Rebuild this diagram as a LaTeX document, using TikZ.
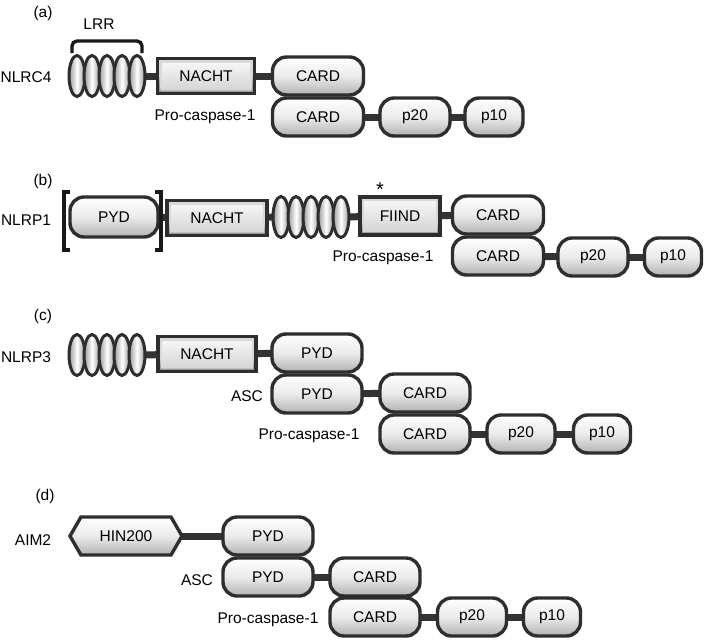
\documentclass[tikz,border=0pt]{standalone}
\usepackage{fontspec}
\setmainfont{Liberation Sans}
\usetikzlibrary{shapes.geometric,shapes.symbols,backgrounds}
\tikzset{
  dom/.style={rounded corners=14pt, draw=black!82, line width=3.4pt,
    top color=white, bottom color=black!30, middle color=black!8,
    minimum height=38pt, inner sep=0pt},
  rdom/.style={draw=black!82, line width=3.4pt, minimum height=35pt, inner sep=0pt,
    path picture={
      \fill[black!40] (path picture bounding box.south west) rectangle (path picture bounding box.north east);
      \fill[black!15] ([shift={(3pt,3pt)}]path picture bounding box.south west) -- ([shift={(-3pt,3pt)}]path picture bounding box.south east) -- (path picture bounding box.north east) -- (path picture bounding box.north west) -- cycle;
      \shade[top color=black!4, bottom color=black!16] ([shift={(4.5pt,4.5pt)}]path picture bounding box.south west) rectangle ([shift={(-4.5pt,-4.5pt)}]path picture bounding box.north east);
    }},
  hexdom/.style={signal, signal to=east and west, signal pointer angle=120,
    draw=black!82, line width=3.4pt, top color=white, bottom color=black!30, middle color=black!8,
    minimum height=38pt, minimum width=112pt, inner sep=0pt},
  coil/.style={ellipse, draw=black!82, line width=3pt, minimum width=16pt, minimum height=41pt,
    inner sep=0pt, left color=black!40, right color=black!40, middle color=white},
  link/.style={line width=7pt, draw=black!80},
  brk/.style={line width=3.4pt, draw=black!90},
  lbl/.style={inner sep=0pt},
}
\begin{document}
\begin{tikzpicture}[x=1pt,y=-1pt,font=\fontsize{15.5}{18}\selectfont]
\useasboundingbox (0,0) rectangle (709,640);

% ---------- (a) ----------
\node[lbl] (la) at (43,13) {(a)};
\node[lbl] (lrr) at (99,24) {LRR};
\node[lbl] (nlrc4) at (26,77) {NLRC4};
\foreach \i/\x in {1/77,2/92,3/107,4/122,5/137}{\node[coil] (ac\i) at (\x,76) {};}
\coordinate (abl) at (72,53); \coordinate (abr) at (142,53);
\draw[brk, rounded corners=5pt] (abl) -- (72,41) -- (142,41) -- (abr);
\node[rdom, minimum width=97pt] (anacht) at (206,76) {NACHT};
\node[dom, minimum width=91pt] (acard) at (318,76) {CARD};
\node[lbl] (apc) at (205,117) {Pro-caspase-1};
\node[dom, minimum width=91pt] (apcard) at (318,117) {CARD};
\node[dom, minimum width=70pt] (ap20) at (415,117) {p20};
\node[dom, minimum width=58pt] (ap10) at (494,117) {p10};

% ---------- (b) ----------
\node[lbl] (lb) at (43,181) {(b)};
\node[lbl] (nlrp1) at (26,220) {NLRP1};
\node[dom, minimum width=88pt, minimum height=40pt] (bpyd) at (114,217) {PYD};
\coordinate (bl1) at (70,192); \coordinate (bl2) at (70,250);
\draw[brk] (bl1) -- (64,192) -- (64,250) -- (bl2);
\coordinate (br1) at (155,192); \coordinate (br2) at (155,250);
\draw[brk] (br1) -- (161,192) -- (161,250) -- (br2);
\node[rdom, minimum width=100pt] (bnacht) at (217,218) {NACHT};
\foreach \i/\x in {1/281,2/296,3/311,4/326,5/341}{\node[coil] (bc\i) at (\x,217) {};}
\node[rdom, minimum width=80pt, minimum height=38pt] (bfiind) at (400,216) {FIIND};
\node[lbl, font=\fontsize{20}{20}\selectfont] (bstar) at (380,190) {*};
\node[dom, minimum width=91pt] (bcard) at (498,215) {CARD};
\node[lbl] (bpc) at (383,258) {Pro-caspase-1};
\node[dom, minimum width=91pt] (bpcard) at (498,256) {CARD};
\node[dom, minimum width=70pt] (bp20) at (593,257) {p20};
\node[dom, minimum width=57pt] (bp10) at (673,257) {p10};

% ---------- (c) ----------
\node[lbl] (lc) at (43,316) {(c)};
\node[lbl] (nlrp3) at (26,357) {NLRP3};
\foreach \i/\x in {1/77,2/92,3/107,4/122,5/137}{\node[coil] (cc\i) at (\x,355) {};}
\node[rdom, minimum width=98pt] (cnacht) at (207,354) {NACHT};
\node[dom, minimum width=90pt] (cpyd) at (317,353) {PYD};
\node[lbl] (casc) at (247,396) {ASC};
\node[dom, minimum width=90pt] (capyd) at (317,394) {PYD};
\node[dom, minimum width=90pt] (cacard) at (425,393) {CARD};
\node[lbl] (cpc) at (309,436) {Pro-caspase-1};
\node[dom, minimum width=90pt] (cpcard) at (425,434) {CARD};
\node[dom, minimum width=68pt] (cp20) at (521,434) {p20};
\node[dom, minimum width=57pt] (cp10) at (602,434) {p10};

% ---------- (d) ----------
\node[lbl] (ld) at (45,496) {(d)};
\node[lbl] (aim2) at (33,540) {AIM2};
\node[hexdom] (dhin) at (126,536) {HIN200};
\node[dom, minimum width=90pt] (dpyd) at (268,536) {PYD};
\node[lbl] (dasc) at (197,580) {ASC};
\node[dom, minimum width=90pt] (dapyd) at (268,577) {PYD};
\node[dom, minimum width=90pt] (dacard) at (375,577) {CARD};
\node[lbl] (dpc) at (268,620) {Pro-caspase-1};
\node[dom, minimum width=90pt] (dpcard) at (375,617) {CARD};
\node[dom, minimum width=69pt] (dp20) at (472,617) {p20};
\node[dom, minimum width=57pt] (dp10) at (552,617) {p10};

\begin{pgfonlayer}{background}
  \draw[link] (ac5.center) -- (anacht.center);
  \draw[link] (anacht.center) -- (acard.center);
  \draw[link] (apcard.center) -- (ap20.center);
  \draw[link] (ap20.center) -- (ap10.center);

  \draw[link] (bpyd.center) -- (bnacht.center);
  \draw[link] (bnacht.center) -- (bc1.center);
  \draw[link] (bc5.center) -- (bfiind.center);
  \draw[link] (bfiind.center) -- (bcard.center);
  \draw[link] (bpcard.center) -- (bp20.center);
  \draw[link] (bp20.center) -- (bp10.center);

  \draw[link] (cc5.center) -- (cnacht.center);
  \draw[link] (cnacht.center) -- (cpyd.center);
  \draw[link] (capyd.center) -- (cacard.center);
  \draw[link] (cpcard.center) -- (cp20.center);
  \draw[link] (cp20.center) -- (cp10.center);

  \draw[link] (dhin.center) -- (dpyd.center);
  \draw[link] (dapyd.center) -- (dacard.center);
  \draw[link] (dpcard.center) -- (dp20.center);
  \draw[link] (dp20.center) -- (dp10.center);
\end{pgfonlayer}
\end{tikzpicture}
\end{document}
